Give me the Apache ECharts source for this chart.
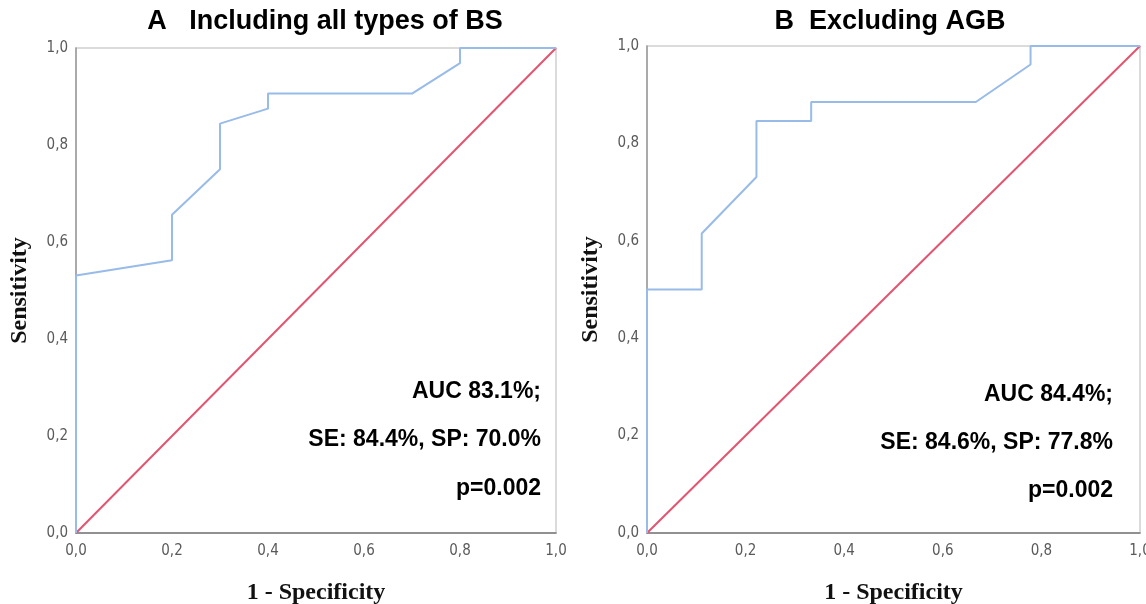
<!DOCTYPE html>
<html>
<head>
<meta charset="utf-8">
<script src="https://cdn.jsdelivr.net/npm/echarts@6/dist/echarts.min.js"></script>
<style>
  html, body { margin: 0; padding: 0; background: #fff; }
  #chart { width: 1146px; height: 604px; }
</style>
</head>
<body>
<div id="chart"></div>
<script>
// ROC curve A: 1 - specificity (x) and sensitivity (y)
const rocAx = [0, 0, 0.2, 0.2, 0.3, 0.3, 0.4, 0.4, 0.7, 0.8, 0.8, 1.0];
const rocAy = [0, 0.531, 0.5625, 0.656, 0.75, 0.844, 0.875, 0.906, 0.906, 0.969, 1.0, 1.0];
// ROC curve B
const rocBx = [0, 0, 0.111, 0.111, 0.222, 0.222, 0.333, 0.333, 0.667, 0.778, 0.778, 1.0];
const rocBy = [0, 0.5, 0.5, 0.615, 0.731, 0.846, 0.846, 0.885, 0.885, 0.962, 1.0, 1.0];
// reference line
const refX = [0, 1];
const refY = [0, 1];

const titles = ['A   Including all types of BS', 'B  Excluding AGB'];
const notesA = ['AUC 83.1%;', 'SE: 84.4%, SP: 70.0%', 'p=0.002'];
const notesB = ['AUC 84.4%;', 'SE: 84.6%, SP: 77.8%', 'p=0.002'];

const toPairs = (xs, ys) => xs.map((x, i) => [x, ys[i]]);
const fmt = v => v.toFixed(1).replace('.', ',');
const tickFont = '"Liberation Sans Narrow", "DejaVu Sans Condensed", sans-serif';

const grids = [
    {left: 76, top: 48, width: 480, height: 485},
    {left: 647, top: 46, width: 493, height: 487}
];

function xAx(i) {
    return {
        gridIndex: i, type: 'value', min: 0, max: 1, interval: 0.2,
        name: '1 - Specificity', nameLocation: 'middle', nameGap: 48,
        nameTextStyle: {fontFamily: 'Liberation Serif', fontWeight: 'bold', fontSize: 24, color: '#111'},
        axisLine: {show: true, lineStyle: {color: '#7a7a7a', width: 1.5}},
        axisTick: {show: false},
        splitLine: {show: false},
        axisLabel: {formatter: fmt, fontFamily: tickFont, fontSize: 15, color: '#5a5a5a', margin: 11}
    };
}
function yAx(i) {
    return {
        gridIndex: i, type: 'value', min: 0, max: 1, interval: 0.2,
        name: 'Sensitivity', nameLocation: 'middle', nameGap: 44,
        nameTextStyle: {fontFamily: 'Liberation Serif', fontWeight: 'bold', fontSize: 24, color: '#111'},
        axisLine: {show: true, lineStyle: {color: '#9a9a9a', width: 1.5}},
        axisTick: {show: false},
        splitLine: {show: false},
        axisLabel: {formatter: fmt, fontFamily: tickFont, fontSize: 15, color: '#5a5a5a', margin: 8}
    };
}

function line(i, xs, ys, color) {
    return {
        type: 'line', xAxisIndex: i, yAxisIndex: i, data: toPairs(xs, ys),
        showSymbol: false, symbol: 'none', animation: false,
        lineStyle: {color: color, width: 2}
    };
}

function notes(lines, right, ys) {
    return lines.map((t, k) => ({
        type: 'text', right: right, top: ys[k] - 13,
        style: {text: t, font: 'bold 23px "Liberation Sans", Arial', fill: '#000', textAlign: 'right'}
    }));
}

const option = {
    animation: false,
    backgroundColor: '#fff',
    title: [
        {text: titles[0], left: 320, top: 3, textAlign: 'center',
         textStyle: {fontFamily: 'Liberation Sans', fontWeight: 'bold', fontSize: 27, color: '#000'}},
        {text: titles[1], left: 885, top: 3, textAlign: 'center',
         textStyle: {fontFamily: 'Liberation Sans', fontWeight: 'bold', fontSize: 27, color: '#000'}}
    ],
    grid: grids.map(g => Object.assign({show: true, borderColor: '#d0d0d0', borderWidth: 1.5,
        containLabel: false, outerBoundsMode: 'none'}, g)),
    xAxis: [xAx(0), xAx(1)],
    yAxis: [yAx(0), yAx(1)],
    series: [
        line(0, refX, refY, '#e2546f'),
        line(0, rocAx, rocAy, '#98bbe8'),
        line(1, refX, refY, '#e2546f'),
        line(1, rocBx, rocBy, '#98bbe8')
    ],
    graphic: [].concat(
        notes(notesA, 1146 - 541, [393, 441, 490]),
        notes(notesB, 1146 - 1113, [396, 444, 492])
    )
};

const myChart = echarts.init(document.getElementById('chart'));
myChart.setOption(option);
</script>
</body>
</html>
